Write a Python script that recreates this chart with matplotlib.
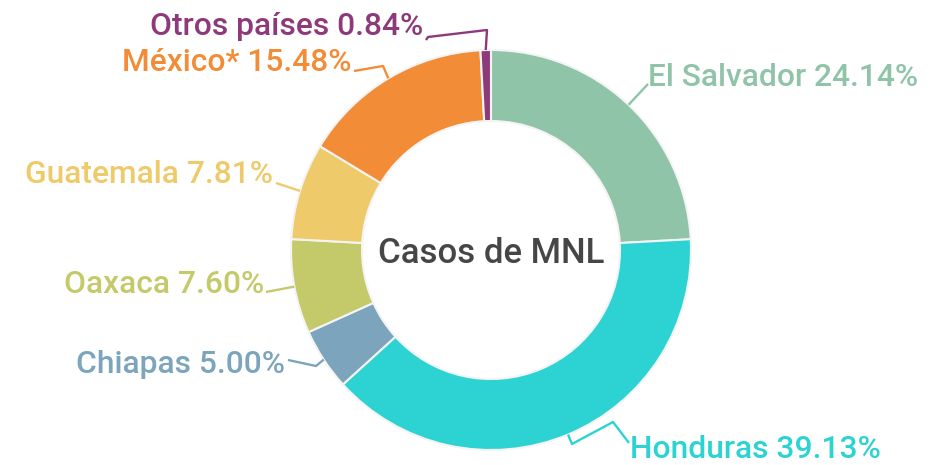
import matplotlib
matplotlib.use("Agg")
import matplotlib.pyplot as plt
import numpy as np

labels = ["El Salvador", "Honduras", "Chiapas", "Oaxaca", "Guatemala", "México*", "Otros países"]
values = [24.14, 39.13, 5.00, 7.60, 7.81, 15.48, 0.84]
colors = ["#8fc4a8", "#2dd3d2", "#7ca5bd", "#c4c96a", "#efca6a", "#f28c36", "#8e3a7a"]
center_title = "Casos de MNL"

W, H = 950, 465
fig = plt.figure(figsize=(W / 100, H / 100), dpi=100)
ax = fig.add_axes([0, 0, 1, 1])

cx, cy = 491, 250          # pixel coords (y down)
R, r_in = 200, 129

def P(x, y):
    return (x, H - y)

ax.pie(values, colors=colors, startangle=90, counterclock=False,
       center=P(cx, cy), radius=R,
       wedgeprops=dict(width=R - r_in, edgecolor="#f4f4f4", linewidth=1.5))
ax.set_xlim(0, W)
ax.set_ylim(0, H)
ax.set_aspect("auto")
ax.axis("off")

# label layout: (leader path after start point in pixels, text anchor, ha)
layout = {
    "El Salvador": ([(648, 84)], (648, 86), "left"),
    "Honduras": ([(572, 444), (613, 422), (629, 443)], (630, 458), "left"),
    "Chiapas": ([(316, 366), (288, 360)], (285, 373), "right"),
    "Oaxaca": ([(266, 292)], (264, 293), "right"),
    "Guatemala": ([(276, 183)], (273, 183), "right"),
    "México*": ([(383, 66), (354, 71)], (352, 71), "right"),
    "Otros países": ([(487, 30), (428, 37), (426, 40)], (423, 35), "right"),
}

cum = np.cumsum([0] + values)
tot = sum(values)
for lab, v, c, c0 in zip(labels, values, colors, cum[:-1]):
    ang = np.deg2rad((c0 + v / 2) / tot * 360)
    sx, sy = cx + R * np.sin(ang), cy - R * np.cos(ang)
    pts, (tx, ty), ha = layout[lab]
    xs = [sx] + [p[0] for p in pts]
    ys = [H - sy] + [H - p[1] for p in pts]
    ax.plot(xs, ys, color=c, lw=1.7, solid_capstyle="butt", solid_joinstyle="round")
    ax.text(tx, H - ty, f"{lab} {v:.2f}%", color=c, fontsize=22.9, ha=ha, va="baseline",
            family="Roboto", weight="medium")

ax.text(*P(cx, 263), center_title, color="#464646", fontsize=25, ha="center", va="baseline",
        family="Roboto", weight="medium")

fig.savefig("out.png", dpi=100)
